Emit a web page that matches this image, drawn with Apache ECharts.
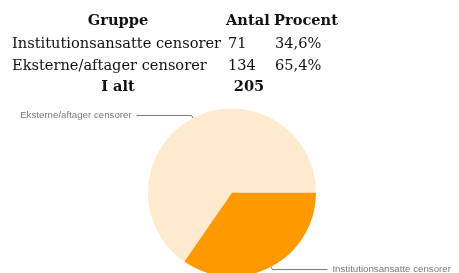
<!DOCTYPE html>
<html><head><meta charset="utf-8">
<script src="https://cdn.jsdelivr.net/npm/echarts@6/dist/echarts.min.js"></script>
<style>html,body{margin:0;padding:0;background:#fff}#c{width:459px;height:273px}</style>
</head><body><div id="c"></div>
<script>
const headers = ['Gruppe', 'Antal', 'Procent'];
const groups = ['Institutionsansatte censorer', 'Eksterne/aftager censorer'];
const counts = [71, 134];
const percents = ['34,6%', '65,4%'];
const totalLabel = 'I alt';
const total = 205;
const colors = ['#FF9900', '#FDEACF'];

const chart = echarts.init(document.getElementById('c'));
const font = 'DejaVu Serif';
const fs = 14.6;
const colX = [12, 228, 275];
const rowY = [21, 44, 66, 87];
function t(text, x, y, bold, align) {
  return {type:'text', style:{text:text, x:x, y:y, align:align||'left', verticalAlign:'middle',
    fontFamily:font, fontSize:fs, fontWeight:bold?'bold':'normal', fill:'#111'}};
}
const g = [];
g.push(t(headers[0], 118, rowY[0], true, 'center'));
g.push(t(headers[1], 226, rowY[0], true));
g.push(t(headers[2], 274, rowY[0], true));
groups.forEach((name, i) => {
  const y = rowY[i+1];
  g.push(t(name, colX[0], y));
  g.push(t(String(counts[i]), colX[1], y));
  g.push(t(percents[i], colX[2], y));
});
g.push(t(totalLabel, 118, rowY[3], true, 'center'));
g.push(t(String(total), 249, rowY[3], true, 'center'));

chart.setOption({
  animation:false,
  graphic: g,
  series:[{
    type:'pie',
    center:[232,192.5],
    radius:84,
    startAngle:0,
    clockwise:true,
    data: groups.map((n,i)=>({name:n, value:counts[i], itemStyle:{color:colors[i]}})),
    label:{show:true, position:'outside', color:'#7a7a7a', fontSize:9.7, fontFamily:'Liberation Sans', alignTo:'none', distanceToLabelLine:5},
    labelLine:{show:true, length:3, length2:55, smooth:false, lineStyle:{color:'#777', width:1}},
    avoidLabelOverlap:false
  }]
});
</script></body></html>
